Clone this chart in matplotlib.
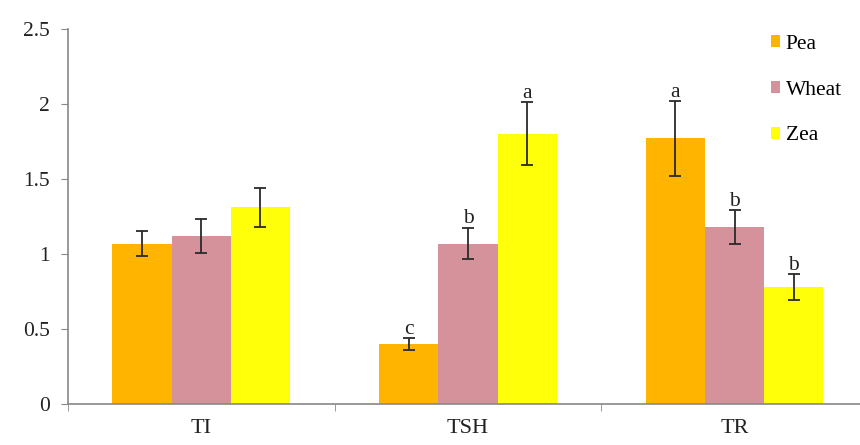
import numpy as np
import matplotlib.pyplot as plt

plt.rcParams['font.family'] = ['Liberation Serif', 'DejaVu Serif']

groups = ["TI", "TSH", "TR"]
series = ["Pea", "Wheat", "Zea"]
colors = ["#FFB400", "#D5929A", "#FFFF0A"]

pea = [1.07, 0.40, 1.77]
wheat = [1.12, 1.07, 1.18]
zea = [1.31, 1.80, 0.78]
pea_err = [0.08, 0.04, 0.25]
wheat_err = [0.11, 0.105, 0.11]
zea_err = [0.13, 0.21, 0.085]
pea_lbl = ["", "c", "a"]
wheat_lbl = ["", "b", "b"]
zea_lbl = ["", "a", "b"]

values = [pea, wheat, zea]
errors = [pea_err, wheat_err, zea_err]
letters = [pea_lbl, wheat_lbl, zea_lbl]

fig = plt.figure(figsize=(8.6, 4.45), dpi=100)
ax = fig.add_axes([0.079, 0.092, 0.921, 0.843])

x = np.arange(len(groups))
w = 0.222
for i, name in enumerate(series):
    xs = x + (i - 1) * w
    ax.bar(xs, values[i], w, color=colors[i], label=name, zorder=2)
    ax.errorbar(xs, values[i], yerr=errors[i], fmt="none", ecolor="#2a2a2a",
                elinewidth=1.3, capsize=4.5, capthick=1.3, zorder=3)
    for xi, v, e, t in zip(xs, values[i], errors[i], letters[i]):
        if t:
            ax.text(xi, v + e - 0.005, t, ha="center", va="bottom", fontsize=15.5,
                    color="#222222")

ax.set_xlim(-0.5, 2.47)
ax.set_ylim(0, 2.5)
ax.set_yticks([0, 0.5, 1, 1.5, 2, 2.5])
ax.set_yticklabels(["0", "0.5", "1", "1.5", "2", "2.5"])
ax.set_xticks(x)
ax.set_xticklabels(groups)
ax.set_xticks([-0.5, 0.5, 1.5], minor=True)
ax.tick_params(axis="x", which="major", length=0, labelsize=16, pad=11, colors="#222222")
ax.tick_params(axis="x", which="minor", length=5, direction="out", color="#888888")
ax.tick_params(axis="y", length=5, direction="out", color="#888888", labelsize=15.5,
               labelcolor="#222222", pad=8)

for s in ["top", "right"]:
    ax.spines[s].set_visible(False)
for s in ["left", "bottom"]:
    ax.spines[s].set_color("#888888")
    ax.spines[s].set_linewidth(1.2)

leg = ax.legend(loc="upper left", bbox_to_anchor=(0.868, 1.025), frameon=False,
                fontsize=15.5, handlelength=0.45, handleheight=0.45, handletextpad=0.25,
                labelspacing=1.25, borderpad=0.2)

plt.savefig("out.png", dpi=100)
plt.close()
